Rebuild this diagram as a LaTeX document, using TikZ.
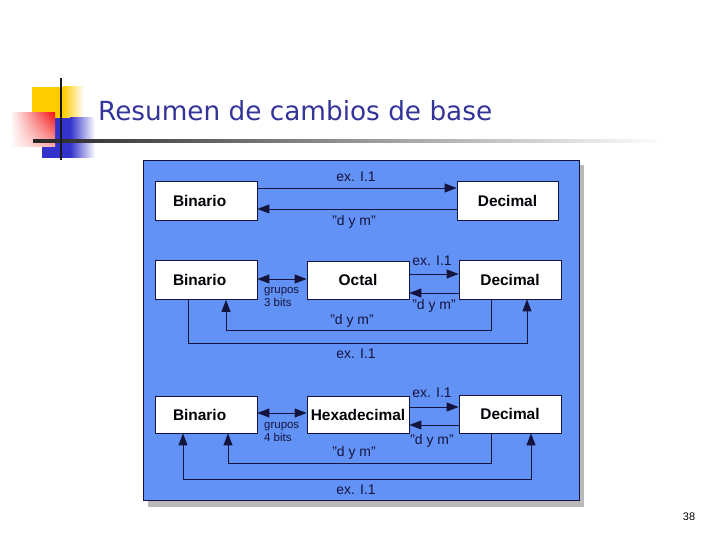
\documentclass[tikz,border=0pt]{standalone}
\usepackage{fontspec}
\setmainfont{Liberation Sans}
\newfontfamily\titlefont{DejaVu Sans}
\usetikzlibrary{arrows.meta,shadings}
\definecolor{panel}{RGB}{98,146,245}
\definecolor{ink}{RGB}{20,20,60}
\definecolor{titleblue}{RGB}{51,51,153}
\definecolor{logoyellow}{RGB}{255,204,0}
\definecolor{logoblue}{RGB}{51,51,204}
\definecolor{logored}{RGB}{245,20,20}
\begin{document}
\begin{tikzpicture}[x=1bp,y=-1bp,
 box/.style={draw=ink, fill=white, line width=0.8bp, font=\bfseries\fontsize{15.5}{18}\selectfont, text=black!85!ink, inner sep=0, minimum width=102bp, minimum height=38bp},
 binbox/.style={box, text width=102bp, align=left, execute at begin node={\hspace*{18bp}}},
 lbl/.style={font=\fontsize{14}{16}\selectfont, text=ink, inner sep=0},
 small/.style={font=\fontsize{11.5}{13}\selectfont, text=ink, inner sep=0, align=left},
 arr/.style={draw=ink, line width=0.9bp, -{Triangle[length=12bp,width=9bp]}},
 darr/.style={draw=ink, line width=0.9bp, {Triangle[length=12bp,width=9bp]}-{Triangle[length=12bp,width=9bp]}}]
\useasboundingbox (0,0) rectangle (720,540);
% logo
\fill[logoyellow] (32,87) rectangle (63,118);
\shade[left color=logoyellow, right color=white] (63,87) rectangle (84,118);
\fill[logoblue] (42,118) rectangle (70,158);
\shade[left color=logoblue, right color=white] (70,118) rectangle (95,158);
\shade[upper left=white, upper right=logored, lower left=white, lower right=logored!35] (10,113) rectangle (55,147);
\shade[left color=black!85, right color=white] (33,139.5) rectangle (665,142.5);
\draw[black!90, line width=2.5bp] (61,78) -- (61,160);
\node[anchor=base west, inner sep=0, text=titleblue, font=\titlefont\fontsize{26.4}{30}\selectfont] (title) at (98,121) {Resumen de cambios de base};
\node[anchor=base, inner sep=0, font=\fontsize{11}{13}\selectfont] (page) at (689,520) {38};
% panel
\fill[gray!55] (148,165) rectangle (584,507);
\draw[ink, fill=panel, line width=0.8bp] (143,160) rectangle (579,500);
% row 1
\node[binbox, minimum height=39bp] (B1) at (206,200.5) {Binario};
\node[box, minimum width=101bp, minimum height=39bp] (D1) at (507.5,200.5) {Decimal};
\draw[arr] (B1.east |- 0,188) -- (D1.west |- 0,188);
\draw[arr] (D1.west |- 0,209) -- (B1.east |- 0,209);
\node[lbl] (l1a) at (356,177) {ex. I.1};
\node[lbl] (l1b) at (354,222) {"d y m"};
% row 2
\node[binbox, minimum height=39bp] (B2) at (206,280) {Binario};
\node[box] (O2) at (358,280) {Octal};
\node[box, minimum height=39bp] (D2) at (510,279.5) {Decimal};
\draw[darr] (B2.east |- 0,279) -- (O2.west |- 0,279);
\draw[arr] (O2.east |- 0,274) -- (D2.west |- 0,274);
\draw[arr] (D2.west |- 0,293) -- (O2.east |- 0,293);
\draw[arr] (D2.south -| 491,0) -- (491,330) -- (226,330) -- (B2.south -| 226,0);
\draw[arr] (B2.south -| 188,0) -- (188,343) -- (527,343) -- (D2.south -| 527,0);
\node[lbl] (l2a) at (432,261) {ex. I.1};
\node[lbl] (l2b) at (434,306) {"d y m"};
\node[lbl] (l2c) at (352,321) {"d y m"};
\node[lbl] (l2d) at (356,354) {ex. I.1};
\node[small, anchor=north west] (g2) at (264,287) {grupos\\3 bits};
% row 3
\node[binbox, minimum height=37bp] (B3) at (206,414.5) {Binario};
\node[box, minimum height=37bp] (H3) at (358,414.5) {Hexadecimal};
\node[box] (D3) at (510,414) {Decimal};
\draw[darr] (B3.east |- 0,413) -- (H3.west |- 0,413);
\draw[arr] (H3.east |- 0,407) -- (D3.west |- 0,407);
\draw[arr] (D3.west |- 0,425) -- (H3.east |- 0,425);
\draw[arr] (D3.south -| 491,0) -- (491,463) -- (228,463) -- (B3.south -| 228,0);
\draw[darr] (B3.south -| 183,0) -- (183,479) -- (531,479) -- (D3.south -| 531,0);
\node[lbl] (l3a) at (432,393) {ex. I.1};
\node[lbl] (l3b) at (432,441) {"d y m"};
\node[lbl] (l3c) at (354,453) {"d y m"};
\node[lbl] (l3d) at (356,490) {ex. I.1};
\node[small, anchor=north west] (g3) at (264,422) {grupos\\4 bits};
\end{tikzpicture}
\end{document}
